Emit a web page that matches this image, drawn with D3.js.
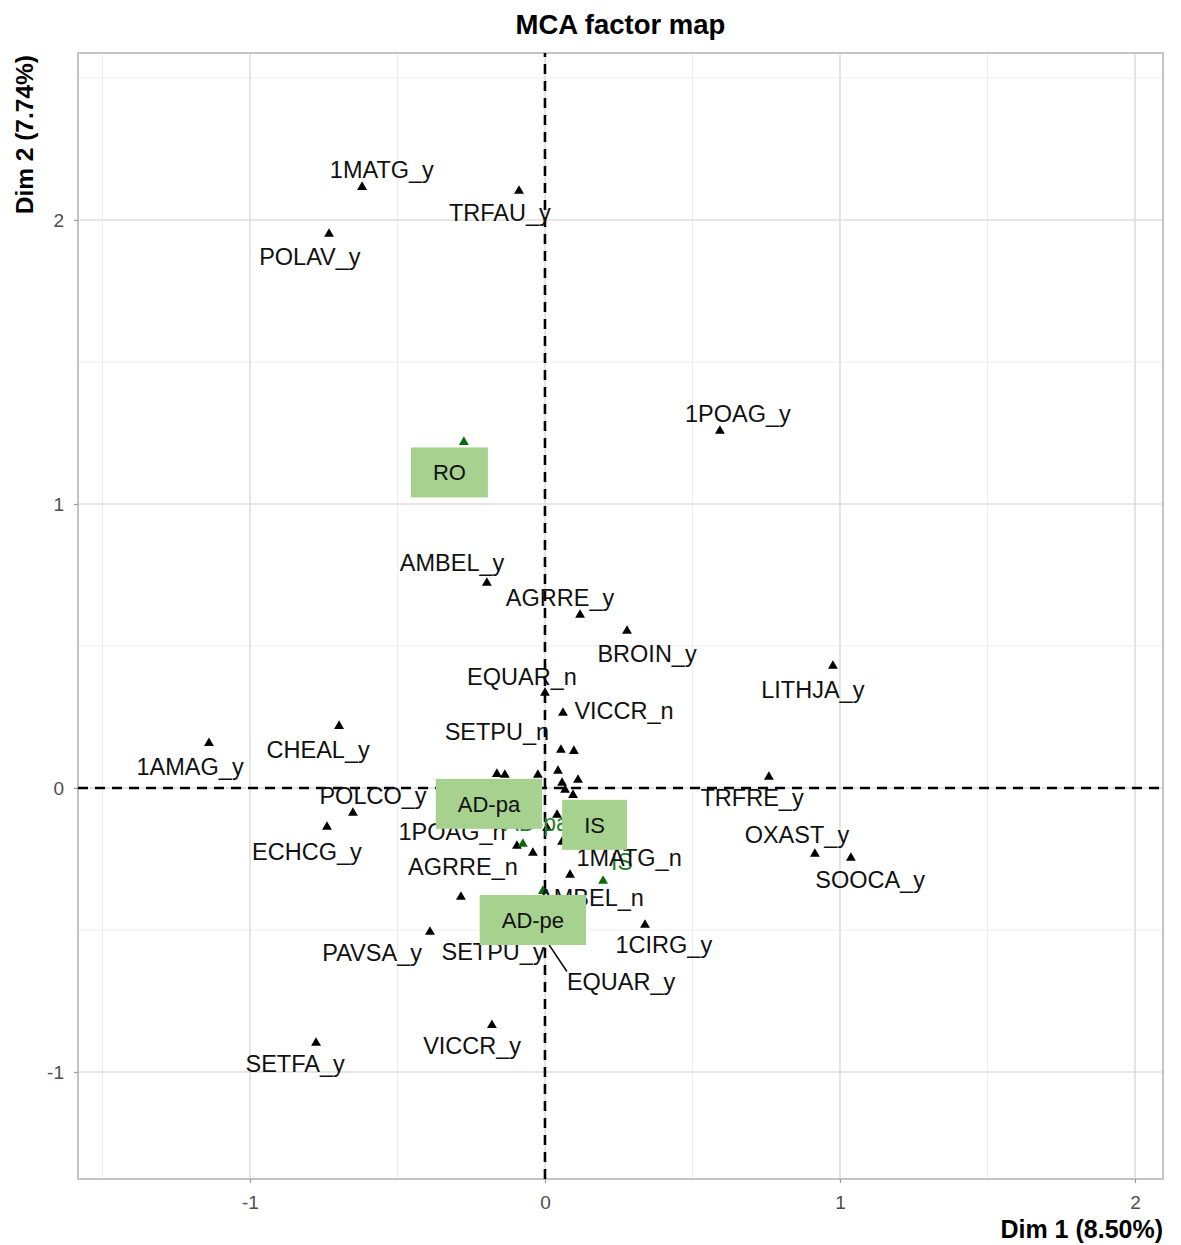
<!DOCTYPE html>
<html>
<head>
<meta charset="utf-8">
<script src="https://cdn.jsdelivr.net/npm/d3@7"></script>
<style>
  body { margin: 0; background: #fff; }
  text { font-family: "Liberation Sans", Arial, sans-serif; }
</style>
</head>
<body>
<svg id="factorMap" width="1181" height="1245"></svg>
<script>
// Active variable categories: coordinates + where the repelled label ended up (data units)
const activeVars = [
  {name: "1MATG_y", dim1: -0.620, dim2: 2.116, lab1: -0.553, lab2: 2.176},
  {name: "TRFAU_y", dim1: -0.088, dim2: 2.102, lab1: -0.153, lab2: 2.025},
  {name: "POLAV_y", dim1: -0.732, dim2: 1.951, lab1: -0.797, lab2: 1.873},
  {name: "1POAG_y", dim1: 0.593, dim2: 1.257, lab1: 0.654, lab2: 1.320},
  {name: "AMBEL_y", dim1: -0.197, dim2: 0.722, lab1: -0.315, lab2: 0.792},
  {name: "AGRRE_y", dim1: 0.119, dim2: 0.609, lab1: 0.051, lab2: 0.669},
  {name: "BROIN_y", dim1: 0.278, dim2: 0.553, lab1: 0.346, lab2: 0.475},
  {name: "EQUAR_n", dim1: 0.000, dim2: 0.335, lab1: -0.078, lab2: 0.394},
  {name: "LITHJA_y", dim1: 0.976, dim2: 0.430, lab1: 0.908, lab2: 0.345},
  {name: "VICCR_n", dim1: 0.061, dim2: 0.264, lab1: 0.268, lab2: 0.271},
  {name: "SETPU_n", dim1: 0.054, dim2: 0.134, lab1: -0.163, lab2: 0.197},
  {name: "1AMAG_y", dim1: -1.139, dim2: 0.158, lab1: -1.203, lab2: 0.074},
  {name: "CHEAL_y", dim1: -0.698, dim2: 0.218, lab1: -0.769, lab2: 0.137},
  {name: "TRFRE_y", dim1: 0.759, dim2: 0.039, lab1: 0.702, lab2: -0.035},
  {name: "POLCO_y", dim1: -0.651, dim2: -0.088, lab1: -0.583, lab2: -0.025},
  {name: "ECHCG_y", dim1: -0.739, dim2: -0.137, lab1: -0.807, lab2: -0.225},
  {name: "OXAST_y", dim1: 0.915, dim2: -0.232, lab1: 0.854, lab2: -0.165},
  {name: "SOOCA_y", dim1: 1.037, dim2: -0.246, lab1: 1.102, lab2: -0.324},
  {name: "1POAG_n", dim1: -0.095, dim2: -0.204, lab1: -0.315, lab2: -0.155},
  {name: "AGRRE_n", dim1: -0.285, dim2: -0.384, lab1: -0.278, lab2: -0.278},
  {name: "1MATG_n", dim1: 0.058, dim2: -0.190, lab1: 0.285, lab2: -0.246},
  {name: "AMBEL_n", dim1: 0.085, dim2: -0.306, lab1: 0.156, lab2: -0.387},
  {name: "1CIRG_y", dim1: 0.339, dim2: -0.482, lab1: 0.403, lab2: -0.553},
  {name: "PAVSA_y", dim1: -0.390, dim2: -0.507, lab1: -0.586, lab2: -0.581},
  {name: "SETPU_y", dim1: -0.085, dim2: -0.518, lab1: -0.176, lab2: -0.577},
  {name: "EQUAR_y", dim1: 0.014, dim2: -0.542, lab1: 0.258, lab2: -0.680},
  {name: "VICCR_y", dim1: -0.180, dim2: -0.835, lab1: -0.247, lab2: -0.908},
  {name: "SETFA_y", dim1: -0.776, dim2: -0.898, lab1: -0.847, lab2: -0.972}
];

// categories in the crowded centre whose labels were dropped
const unlabeledDim1 = [0.098, -0.163, -0.136, -0.024, 0.044, 0.112, 0.058, 0.068, 0.095, 0.041, 0.007, -0.041];
const unlabeledDim2 = [0.130, 0.049, 0.046, 0.046, 0.060, 0.028, 0.018, -0.007, -0.025, -0.095, -0.141, -0.229];

// supplementary categories (green) + label and highlight box centres
const supVars = [
  {name: "RO",    dim1: -0.275, dim2: 1.218,  lab1: -0.324, lab2: 1.111,  box1: -0.324, box2: 1.111},
  {name: "AD-pa", dim1: -0.075, dim2: -0.197, lab1: -0.030, lab2: -0.122, box1: -0.190, box2: -0.056},
  {name: "IS",    dim1: 0.197,  dim2: -0.327, lab1: 0.261,  lab2: -0.261, box1: 0.168,  box2: -0.130},
  {name: "AD-pe", dim1: -0.007, dim2: -0.363, lab1: -0.041, lab2: -0.465, box1: -0.041, box2: -0.465}
];

const dim1Range = [-1.583, 2.095];
const dim2Range = [-1.377, 2.588];
const dim1Ticks = [-1, 0, 1, 2];
const dim2Ticks = [-1, 0, 1, 2];
const dim1Minor = [-1.5, -0.5, 0.5, 1.5];
const dim2Minor = [-0.5, 0.5, 1.5, 2.5];

const titleText = "MCA factor map";
const xTitle = "Dim 1 (8.50%)";
const yTitle = "Dim 2 (7.74%)";

function factorMap() {
  const svg = d3.select("#factorMap");
  const width = 1181, height = 1245;
  const margin = {top: 53, right: 18, bottom: 66, left: 78};

  const x = d3.scaleLinear().domain(dim1Range).range([margin.left, width - margin.right]);
  const y = d3.scaleLinear().domain(dim2Range).range([height - margin.bottom, margin.top]);

  // grid
  const grid = svg.append("g");
  grid.selectAll(".vminor").data(dim1Minor).enter().append("line")
    .attr("x1", d => x(d)).attr("x2", d => x(d))
    .attr("y1", y.range()[0]).attr("y2", y.range()[1])
    .attr("stroke", "#ededed").attr("stroke-width", 1);
  grid.selectAll(".hminor").data(dim2Minor).enter().append("line")
    .attr("y1", d => y(d)).attr("y2", d => y(d))
    .attr("x1", x.range()[0]).attr("x2", x.range()[1])
    .attr("stroke", "#ededed").attr("stroke-width", 1);
  grid.selectAll(".vmajor").data(dim1Ticks).enter().append("line")
    .attr("x1", d => x(d)).attr("x2", d => x(d))
    .attr("y1", y.range()[0]).attr("y2", y.range()[1])
    .attr("stroke", "#dedede").attr("stroke-width", 1.6);
  grid.selectAll(".hmajor").data(dim2Ticks).enter().append("line")
    .attr("y1", d => y(d)).attr("y2", d => y(d))
    .attr("x1", x.range()[0]).attr("x2", x.range()[1])
    .attr("stroke", "#dedede").attr("stroke-width", 1.6);

  // panel border
  svg.append("rect")
    .attr("x", x.range()[0]).attr("y", y.range()[1])
    .attr("width", x.range()[1] - x.range()[0])
    .attr("height", y.range()[0] - y.range()[1])
    .attr("fill", "none").attr("stroke", "#c4c4c4").attr("stroke-width", 2);

  // axes
  const xAxis = svg.append("g")
    .attr("transform", `translate(0,${y.range()[0]})`)
    .call(d3.axisBottom(x).tickValues(dim1Ticks).tickSize(4).tickPadding(13).tickFormat(d3.format("d")));
  const yAxis = svg.append("g")
    .attr("transform", `translate(${x.range()[0]},0)`)
    .call(d3.axisLeft(y).tickValues(dim2Ticks).tickSize(4).tickPadding(10).tickFormat(d3.format("d")));
  [xAxis, yAxis].forEach(a => {
    a.select(".domain").remove();
    a.selectAll(".tick line").attr("stroke", "#9a9a9a").attr("stroke-width", 1.2);
    a.selectAll(".tick text").attr("fill", "#4d4d4d").style("font-size", "19px")
      .style("font-family", "'Liberation Sans', Arial, sans-serif");
  });
  // ggplot style minus sign is a plain hyphen
  svg.selectAll(".tick text").text(d => String(d));

  // zero reference lines
  svg.append("line")
    .attr("x1", x(0)).attr("x2", x(0)).attr("y1", y.range()[0]).attr("y2", y.range()[1])
    .attr("stroke", "#000").attr("stroke-width", 2.6).attr("stroke-dasharray", "10,7");
  svg.append("line")
    .attr("y1", y(0)).attr("y2", y(0)).attr("x1", x.range()[0]).attr("x2", x.range()[1])
    .attr("stroke", "#000").attr("stroke-width", 2.6).attr("stroke-dasharray", "10,7");

  const tri = d3.symbol().type(d3.symbolTriangle).size(42);

  // active points
  const unlabeled = unlabeledDim1.map((d, i) => ({dim1: d, dim2: unlabeledDim2[i]}));
  svg.append("g").selectAll("path").data(activeVars.concat(unlabeled)).enter().append("path")
    .attr("d", tri)
    .attr("transform", d => `translate(${x(d.dim1)},${y(d.dim2)})`)
    .attr("fill", "#000");

  // supplementary points and labels (drawn under the black labels)
  svg.append("g").selectAll("path").data(supVars).enter().append("path")
    .attr("d", tri)
    .attr("transform", d => `translate(${x(d.dim1)},${y(d.dim2)})`)
    .attr("fill", "#0b6a0b");
  svg.append("g").selectAll("text").data(supVars).enter().append("text")
    .attr("x", d => x(d.lab1)).attr("y", d => y(d.lab2)).attr("dy", "0.36em")
    .attr("text-anchor", "middle")
    .style("font-size", "23px").attr("fill", "#2a7d2a")
    .text(d => d.name);

  // labels
  const labels = svg.append("g").selectAll("text").data(activeVars).enter().append("text")
    .attr("x", d => x(d.lab1)).attr("y", d => y(d.lab2)).attr("dy", "0.36em")
    .attr("text-anchor", "middle")
    .style("font-size", "23.5px").attr("fill", "#111")
    .text(d => d.name);

  // repel segments when label sits far from its point
  const segs = svg.append("g");
  labels.each(function(d) {
    const b = this.getBBox();
    const px = x(d.dim1), py = y(d.dim2);
    const cx = Math.max(b.x, Math.min(px, b.x + b.width));
    const cy = Math.max(b.y + 3, Math.min(py, b.y + b.height - 3));
    if (Math.hypot(cx - px, cy - py) > 25) {
      segs.append("line")
        .attr("x1", px).attr("y1", py + 3).attr("x2", cx).attr("y2", cy)
        .attr("stroke", "#000").attr("stroke-width", 1.5);
    }
  });

  // highlight boxes over the supplementary categories
  const boxes = svg.append("g").selectAll("g").data(supVars).enter().append("g")
    .attr("transform", d => `translate(${x(d.box1)},${y(d.box2)})`);
  boxes.append("text")
    .attr("text-anchor", "middle").attr("dy", "0.36em")
    .style("font-size", "22px").attr("fill", "#111")
    .text(d => d.name);
  boxes.each(function() {
    const t = d3.select(this).select("text");
    const w = t.node().getComputedTextLength() + 44;
    d3.select(this).insert("rect", "text")
      .attr("x", -w / 2).attr("y", -25).attr("width", w).attr("height", 50)
      .attr("fill", "#a6d18f");
  });

  // titles
  svg.append("text")
    .attr("x", (x.range()[0] + x.range()[1]) / 2).attr("y", 34)
    .attr("text-anchor", "middle").style("font-size", "27.5px").style("font-weight", "bold")
    .text(titleText);
  svg.append("text")
    .attr("x", x.range()[1]).attr("y", 1238)
    .attr("text-anchor", "end").style("font-size", "25px").style("font-weight", "bold")
    .text(xTitle);
  svg.append("text")
    .attr("transform", `translate(33,${y.range()[1] + 2}) rotate(-90)`)
    .attr("text-anchor", "end").style("font-size", "24.5px").style("font-weight", "bold")
    .text(yTitle);
}

factorMap();
</script>
</body>
</html>
